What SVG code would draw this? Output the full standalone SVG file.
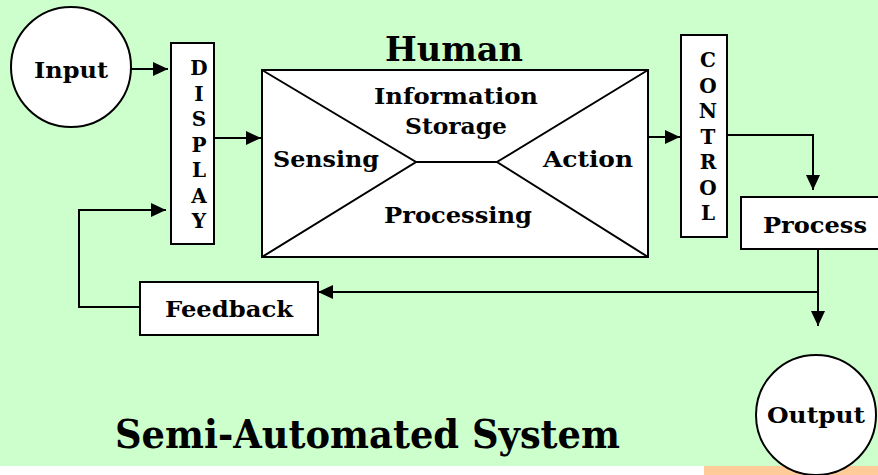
<svg xmlns="http://www.w3.org/2000/svg" width="878" height="475" viewBox="0 0 878 475">
  <defs>
    <marker id="arrow" viewBox="0 0 15 14" refX="15" refY="7" markerWidth="15" markerHeight="14" markerUnits="userSpaceOnUse" orient="auto">
      <path d="M0,0 L15,7 L0,14 Z" fill="#000"/>
    </marker>
  </defs>
  <style>
    .box { fill: #fff; stroke: #000; stroke-width: 2; }
    .wire { fill: none; stroke: #000; stroke-width: 2; }
    .lbl { font-family: "DejaVu Serif", "Liberation Serif", serif; font-weight: bold; font-size: 22px; text-anchor: middle; fill: #000; }
    .vlbl { font-family: "DejaVu Serif", "Liberation Serif", serif; font-weight: bold; font-size: 20px; text-anchor: middle; fill: #000; }
    .title { font-family: "DejaVu Serif", "Liberation Serif", serif; font-weight: bold; fill: #000; }
  </style>

  <!-- backdrop -->
  <rect x="0" y="0" width="878" height="475" fill="#fff"/>
  <rect x="0" y="0" width="878" height="466" fill="#ccffcc"/>
  <rect x="704" y="466" width="174" height="9" fill="#ffcc99"/>

  <!-- connectors -->
  <g id="connectors">
    <line class="wire" x1="131" y1="69" x2="168" y2="69" marker-end="url(#arrow)"/>
    <line class="wire" x1="214" y1="138" x2="261" y2="138" marker-end="url(#arrow)"/>
    <line class="wire" x1="648" y1="137" x2="680" y2="137" marker-end="url(#arrow)"/>
    <polyline class="wire" points="727,135 813,135 813,190" marker-end="url(#arrow)"/>
    <line class="wire" x1="818" y1="249" x2="818" y2="326" marker-end="url(#arrow)"/>
    <line class="wire" x1="818" y1="292" x2="318" y2="292" marker-end="url(#arrow)"/>
    <polyline class="wire" points="140,307 79,307 79,210 166,210" marker-end="url(#arrow)"/>
  </g>

  <g id="input">
    <circle class="box" cx="71" cy="67" r="60"/>
    <text class="lbl" x="71" y="78" textLength="74" lengthAdjust="spacingAndGlyphs">Input</text>
  </g>

  <g id="display">
    <rect class="box" x="171" y="43" width="43" height="201"/>
    <text class="vlbl" x="199" y="75">D</text>
    <text class="vlbl" x="199" y="100.5">I</text>
    <text class="vlbl" x="199" y="126">S</text>
    <text class="vlbl" x="199" y="151.5">P</text>
    <text class="vlbl" x="199" y="177">L</text>
    <text class="vlbl" x="199" y="202.5">A</text>
    <text class="vlbl" x="199" y="228">Y</text>
  </g>

  <g id="human">
    <text class="title" x="385" y="61" font-size="33" textLength="138" lengthAdjust="spacingAndGlyphs">Human</text>
    <rect class="box" x="262" y="70" width="386" height="187"/>
    <path class="wire" d="M262,70 L416,162 L262,257 M648,70 L497,162 L648,257 M416,162 L497,162"/>
    <text class="lbl" x="456" y="104" textLength="164" lengthAdjust="spacingAndGlyphs">Information</text>
    <text class="lbl" x="456" y="134" textLength="102" lengthAdjust="spacingAndGlyphs">Storage</text>
    <text class="lbl" x="326" y="167" textLength="106" lengthAdjust="spacingAndGlyphs">Sensing</text>
    <text class="lbl" x="588" y="167" textLength="90" lengthAdjust="spacingAndGlyphs">Action</text>
    <text class="lbl" x="458" y="223" textLength="148" lengthAdjust="spacingAndGlyphs">Processing</text>
  </g>

  <g id="control">
    <rect class="box" x="681" y="35" width="46" height="202"/>
    <text class="vlbl" x="708" y="67">C</text>
    <text class="vlbl" x="708" y="92.5">O</text>
    <text class="vlbl" x="708" y="118">N</text>
    <text class="vlbl" x="708" y="143.5">T</text>
    <text class="vlbl" x="708" y="169">R</text>
    <text class="vlbl" x="708" y="194.5">O</text>
    <text class="vlbl" x="708" y="220">L</text>
  </g>

  <g id="process">
    <rect class="box" x="741" y="197" width="145" height="52"/>
    <text class="lbl" x="815" y="233" textLength="104" lengthAdjust="spacingAndGlyphs">Process</text>
  </g>

  <g id="feedback">
    <rect class="box" x="140" y="282" width="178" height="53"/>
    <text class="lbl" x="229" y="317" textLength="128" lengthAdjust="spacingAndGlyphs">Feedback</text>
  </g>

  <g id="output">
    <circle class="box" cx="816" cy="415" r="60"/>
    <text class="lbl" x="816" y="423" textLength="98" lengthAdjust="spacingAndGlyphs">Output</text>
  </g>

  <text class="title" x="115" y="448" font-size="39" textLength="505" lengthAdjust="spacingAndGlyphs">Semi-Automated System</text>
</svg>
